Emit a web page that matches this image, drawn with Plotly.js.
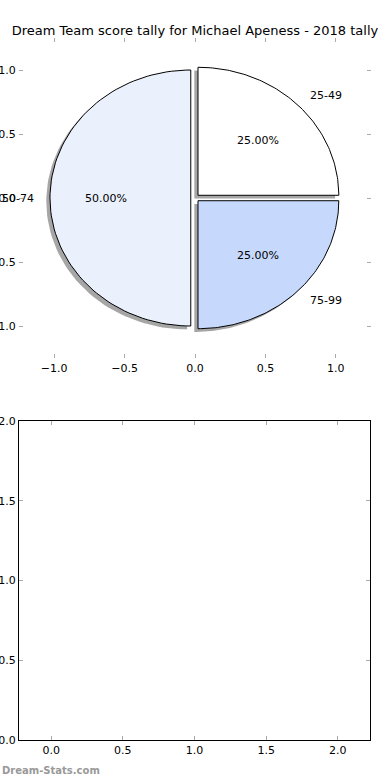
<!DOCTYPE html>
<html>
<head>
<meta charset="utf-8">
<script src="https://cdn.plot.ly/plotly-3.0.1.min.js"></script>
<style>html,body{margin:0;padding:0;background:#fff;}#chart{width:390px;height:780px;}</style>
</head>
<body>
<div id="chart"></div>
<script>
// ---- data ----
const categories = ["25-49", "50-74", "75-99"];
const counts = [1, 2, 1];
const pieTicks = [-1.0, -0.5, 0.0, 0.5, 1.0];
const emptyTicks = [0.0, 0.5, 1.0, 1.5, 2.0];
const titleText = "Dream Team score tally for Michael Apeness - 2018 tally";
const watermark = "Dream-Stats.com";

// ---- style ----
const sliceColors = ["#ffffff", "#eaf1fd", "#c6d9fd"];
const EXPLODE = 0.03;
const SHADOW = -0.026;
const FONT = "DejaVu Sans";
const W = 390, H = 780;

const total = counts.reduce((a, b) => a + b, 0);
const traces = [];
const shadows = [];
const wedges = [];
const annotations = [];
let start = 0;
counts.forEach((v, i) => {
  const frac = v / total;
  const t1 = start * 2 * Math.PI, t2 = (start + frac) * 2 * Math.PI;
  const mid = (t1 + t2) / 2;
  const cx = EXPLODE * Math.cos(mid), cy = EXPLODE * Math.sin(mid);
  const xs = [cx], ys = [cy];
  const n = 90;
  for (let k = 0; k <= n; k++) {
    const t = t1 + (t2 - t1) * k / n;
    xs.push(cx + Math.cos(t)); ys.push(cy + Math.sin(t));
  }
  xs.push(cx); ys.push(cy);
  shadows.push({
    type: "scatter", mode: "lines", x: xs.map(x => x + SHADOW), y: ys.map(y => y + SHADOW),
    fill: "toself", fillcolor: "rgba(77,77,77,0.5)", line: {width: 0, color: "rgba(0,0,0,0)"},
    xaxis: "x", yaxis: "y", hoverinfo: "skip", showlegend: false
  });
  wedges.push({
    type: "scatter", mode: "lines", x: xs, y: ys,
    fill: "toself", fillcolor: sliceColors[i], line: {width: 1, color: "#000"},
    xaxis: "x", yaxis: "y", hoverinfo: "skip", showlegend: false
  });
  const lx = cx + 1.1 * Math.cos(mid), ly = cy + 1.1 * Math.sin(mid);
  annotations.push({
    x: lx, y: ly, xref: "x", yref: "y", text: categories[i], showarrow: false,
    xanchor: lx > 0 ? "left" : "right", yanchor: "middle",
    font: {family: FONT, size: 11, color: "#000"}
  });
  const px = cx + 0.6 * Math.cos(mid), py = cy + 0.6 * Math.sin(mid);
  annotations.push({
    x: px, y: py, xref: "x", yref: "y", text: (frac * 100).toFixed(2) + "%", showarrow: false,
    xanchor: "center", yanchor: "middle",
    font: {family: FONT, size: 11, color: "#000"}
  });
  start += frac;
});
traces.push(...shadows, ...wedges);
traces.push({type: "scatter", mode: "markers", x: [], y: [], xaxis: "x2", yaxis: "y2", showlegend: false});

annotations.push({
  x: 0, y: 1 - 770 / H, xref: "paper", yref: "paper", text: watermark, showarrow: false,
  xanchor: "left", yanchor: "middle",
  font: {family: FONT, size: 10, color: "#999999", weight: "bold"}
});

const tickFont = {family: FONT, size: 11, color: "#000"};
const common = {
  ticks: "inside", ticklen: 4, tickwidth: 1, tickcolor: "#aaaaaa",
  showgrid: false, zeroline: false, mirror: "ticks", automargin: false,
  tickfont: tickFont, tickformat: ".1f", fixedrange: true
};

const layout = {
  width: W, height: H,
  margin: {l: 0, r: 0, t: 0, b: 0, pad: 0},
  paper_bgcolor: "#fff", plot_bgcolor: "rgba(0,0,0,0)",
  showlegend: false,
  title: {text: titleText, x: 0.5, xref: "paper", xanchor: "center", y: 1 - 30 / H, yref: "paper", yanchor: "middle",
          font: {family: FONT, size: 13, color: "#000"}},
  xaxis: Object.assign({}, common, {domain: [19 / W, 371 / W], range: [-1.25, 1.25], anchor: "y",
          tickvals: pieTicks, showline: true, linecolor: "rgba(0,0,0,0)"}),
  yaxis: Object.assign({}, common, {domain: [1 - 358 / H, 1 - 38 / H], range: [-1.25, 1.25], anchor: "x",
          tickvals: pieTicks, showline: true, linecolor: "rgba(0,0,0,0)"}),
  xaxis2: Object.assign({}, common, {domain: [19 / W, 370 / W], range: [-0.225, 2.225], anchor: "y2",
          tickvals: emptyTicks, showline: true, linecolor: "#000", linewidth: 1}),
  yaxis2: Object.assign({}, common, {domain: [1 - 740 / H, 1 - 421 / H], range: [0, 2], anchor: "x2",
          tickvals: emptyTicks, showline: true, linecolor: "#000", linewidth: 1}),
  annotations: annotations
};

Plotly.newPlot("chart", traces, layout, {staticPlot: true, displayModeBar: false});
</script>
</body>
</html>
